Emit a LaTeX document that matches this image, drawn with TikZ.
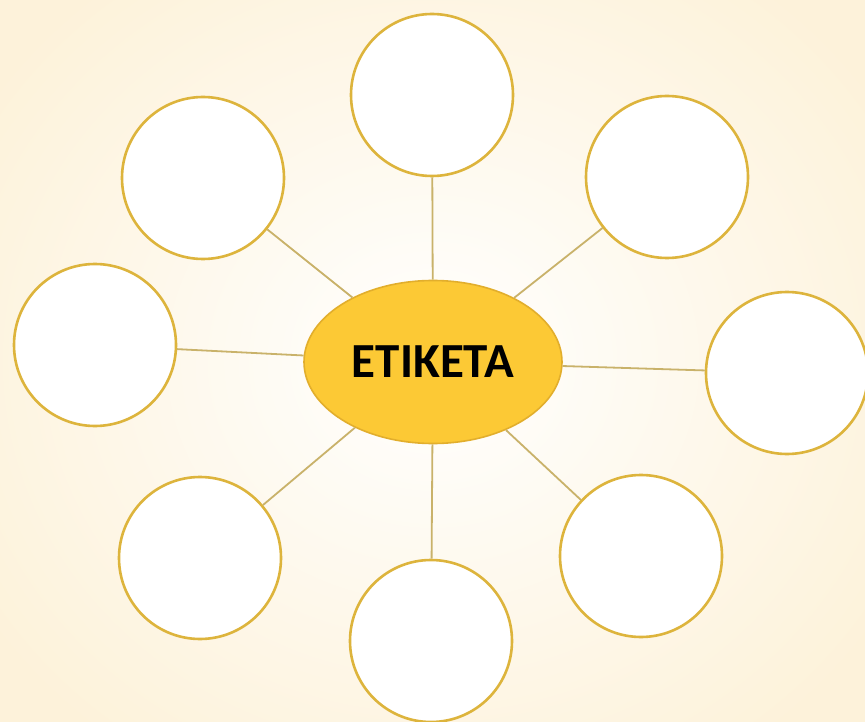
\documentclass[tikz,border=0pt]{standalone}
\usepackage{fontspec}
\setmainfont{Carlito}
\usetikzlibrary{shapes.geometric}
\definecolor{bgouter}{HTML}{FDF2DA}
\definecolor{ring}{HTML}{DDB43C}
\definecolor{link}{HTML}{C9B26A}
\definecolor{hub}{HTML}{FCC935}
\definecolor{hubedge}{HTML}{E2AE2C}
\tikzset{
  bubble/.style={circle, draw=ring, line width=2.6pt, fill=white, minimum size=162pt, inner sep=0pt},
  hubnode/.style={ellipse, draw=hubedge, line width=1.6pt, fill=hub, minimum width=258pt, minimum height=163pt, inner sep=0pt, font=\fontsize{49}{55}\selectfont\bfseries},
  spoke/.style={draw=link, line width=1.8pt}
}
\begin{document}
\begin{tikzpicture}[x=1pt,y=-1pt]
\useasboundingbox (0,0) rectangle (865,722);
\shade[inner color=white, outer color=bgouter] (-100,-120) rectangle (965,842);
\node[hubnode] (c) at (433,362) {ETIKETA};
\node[bubble] (t) at (432,95) {};
\node[bubble] (ul) at (203,178) {};
\node[bubble] (ur) at (667,177) {};
\node[bubble] (l) at (95,345) {};
\node[bubble] (r) at (787,373) {};
\node[bubble] (ll) at (200,558) {};
\node[bubble] (b) at (431,641) {};
\node[bubble] (lr) at (641,556) {};
\foreach \n in {t,ul,ur,l,r,ll,b,lr}{\draw[spoke] (c) -- (\n);}
\end{tikzpicture}
\end{document}
